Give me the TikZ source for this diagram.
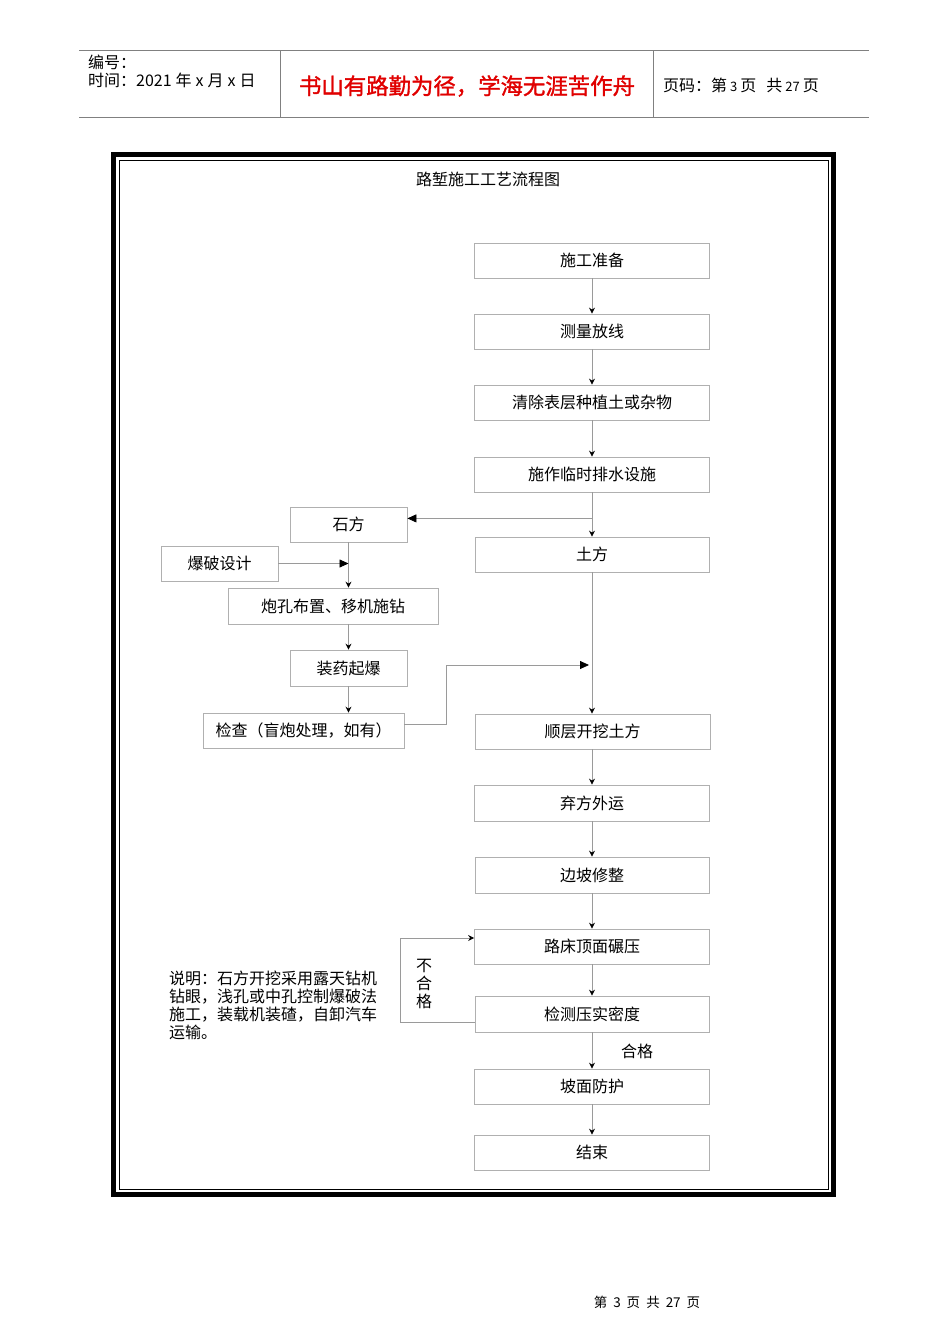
\documentclass[tikz,border=0pt]{standalone}
\usepackage{fontspec}
\setmainfont{Noto Sans CJK SC}
\newfontfamily\cjkb[FakeBold=1.5]{Noto Sans CJK SC}
\usetikzlibrary{arrows.meta}
\definecolor{boxgray}{HTML}{B0B0B0}
\definecolor{linegray}{HTML}{9A9A9A}
\definecolor{hdrgray}{HTML}{808080}
\definecolor{hdrred}{HTML}{E00000}
\begin{document}
\begin{tikzpicture}[x=1pt,y=-1pt,
  box/.style={draw=boxgray,line width=0.8pt,minimum height=35pt,inner sep=0pt,
    font=\fontsize{16}{18}\selectfont},
  conn/.style={draw=linegray,line width=0.8pt,-{Stealth[length=6pt,width=6pt,inset=2pt,color=black]}},
  bigconn/.style={draw=linegray,line width=0.8pt,-{Triangle[length=9pt,width=8pt,color=black]}},
  lbl/.style={inner sep=0pt,font=\fontsize{16}{18}\selectfont},
  hdr/.style={inner sep=0pt,anchor=west,font=\fontsize{16}{18}\selectfont}
]
\useasboundingbox (0,0) rectangle (950,1344);
% header
\draw[hdrgray,line width=0.8pt] (79,50) -- (869,50) (79,117) -- (869,117) (280,50) -- (280,117) (653,50) -- (653,117);
\node[hdr] (h1) at (88,62) {编号：};
\node[hdr] (h2) at (88,80) {时间：2021\hspace{4pt}年\hspace{4pt}x\hspace{4pt}月\hspace{4pt}x\hspace{4pt}日};
\node[inner sep=0pt,text=hdrred,font=\fontsize{22.4}{24}\cjkb] (h3) at (467,86) {书山有路勤为径，学海无涯苦作舟};
\node[hdr] (h4) at (663,85) {页码：第\hspace{3pt}{\fontsize{13}{14}\selectfont 3}\hspace{3pt}页\hspace{10pt}共\hspace{3pt}{\fontsize{13}{14}\selectfont 27}\hspace{3pt}页};
% frame
\draw[black,line width=5pt] (113.5,154) rectangle (833.5,1194.5);
\draw[black,line width=1pt] (119.5,160) rectangle (828,1189);
\node[lbl] (title) at (488,179) {路堑施工工艺流程图};
% boxes
\node[box,minimum width=235pt] (prep) at (592,260.5) {施工准备};
\node[box,minimum width=235pt] (survey) at (592,331.5) {测量放线};
\node[box,minimum width=235pt] (clear) at (592,402.5) {清除表层种植土或杂物};
\node[box,minimum width=235pt] (drain) at (592,474.5) {施作临时排水设施};
\node[box,minimum width=117pt] (stone) at (348.5,524.5) {石方};
\node[box,minimum width=234pt] (earth) at (592,554.5) {土方};
\node[box,minimum width=117pt] (blast) at (219.5,563.5) {爆破设计};
\node[box,minimum width=210pt,minimum height=36pt] (drill) at (333,606) {炮孔布置、移机施钻};
\node[box,minimum width=117pt,minimum height=36pt] (charge) at (348.5,668) {装药起爆};
\node[box,minimum width=201pt] (check) at (303.5,730.5) {检查（盲炮处理，如有）};
\node[box,minimum width=235pt] (layer) at (592.5,731.5) {顺层开挖土方};
\node[box,minimum width=235pt,minimum height=36pt] (haul) at (592,803) {弃方外运};
\node[box,minimum width=234pt,minimum height=36pt] (slope) at (592,875) {边坡修整};
\node[box,minimum width=235pt] (roll) at (592,946.5) {路床顶面碾压};
\node[box,minimum width=234pt,minimum height=36pt] (test) at (592,1014) {检测压实密度};
\node[box,minimum width=235pt] (protect) at (592,1086.5) {坡面防护};
\node[box,minimum width=235pt] (finish) at (592,1152.5) {结束};
% connectors main column
\draw[conn] (prep) -- (survey);
\draw[conn] (survey) -- (clear);
\draw[conn] (clear) -- (drain);
\draw[conn] (drain.south) -- (drain.south |- earth.north);
\coordinate (br) at ([yshift=-26pt]drain.south);
\draw[bigconn] (br) -- (stone.east |- br);
\draw[conn] (earth.south) -- (earth.south |- layer.north);
\draw[conn] (layer.south -| haul.north) -- (haul.north);
\draw[conn] (haul) -- (slope);
\draw[conn] (slope) -- (roll);
\draw[conn] (roll) -- (test);
\draw[conn] (test) -- (protect);
\draw[conn] (protect) -- (finish);
% stone branch
\draw[conn] (stone.south) -- (stone.south |- drill.north);
\draw[bigconn] (blast.east) -- (stone.south |- blast.east);
\draw[conn] (charge.north |- drill.south) -- (charge.north);
\draw[conn] (charge.south) -- (charge.south |- check.north);
\coordinate (merge) at (589,665);
\draw[bigconn] ([yshift=6.5pt]check.east) -- (446,724) |- (merge);
% loop
\draw[conn] ([yshift=-8pt]test.west) -- (400,1022) |- ([yshift=8.5pt]roll.west);
\node[lbl,align=center] (ng) at (424,984) {不\\合\\格};
\node[lbl] (ok) at (637,1051) {合格};
% note
\node[inner sep=0pt,anchor=north west,align=left,font=\fontsize{16}{18}\selectfont] (note) at (169,971)
  {说明：石方开挖采用露天钻机\\钻眼，浅孔或中孔控制爆破法\\施工，装载机装碴，自卸汽车\\运输。};
% footer
\node[inner sep=0pt,font=\fontsize{13.5}{15}\selectfont] (foot) at (647,1302) {第\hspace{6pt}3\hspace{6pt}页\hspace{6pt}共\hspace{6pt}27\hspace{6pt}页};
\end{tikzpicture}
\end{document}
